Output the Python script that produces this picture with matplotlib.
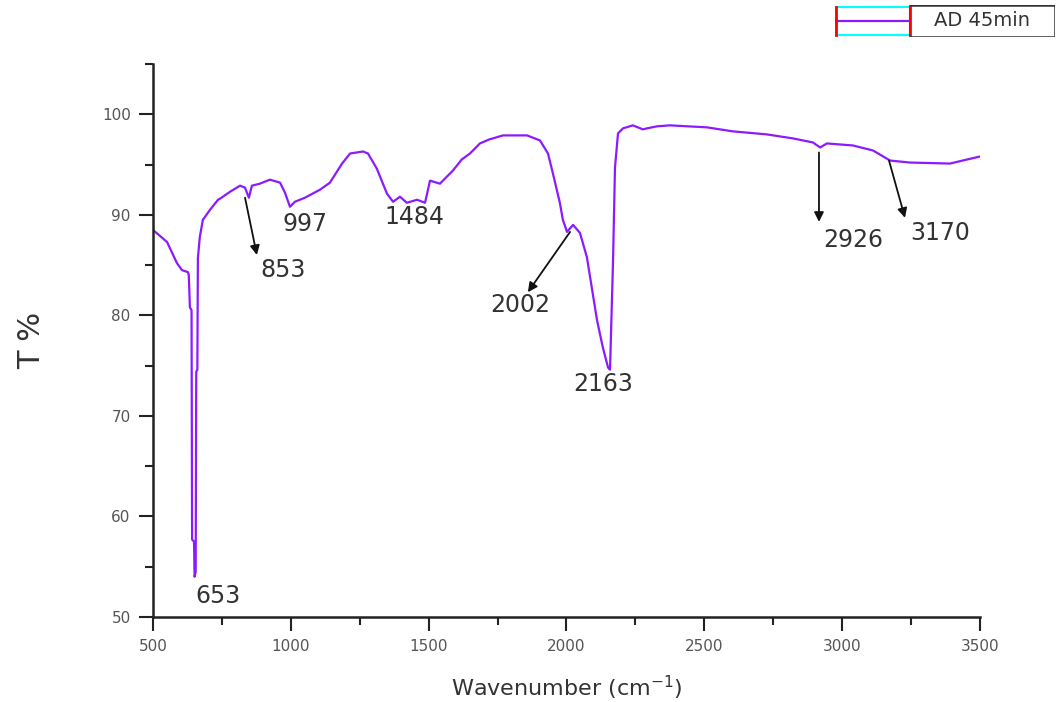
import matplotlib
matplotlib.use('Agg')
import matplotlib.pyplot as plt
from matplotlib.ticker import MultipleLocator
from matplotlib.patches import Rectangle

# FTIR spectrum, AD 45min
wavenumber = [500, 551, 587, 605, 627, 630, 634, 640, 642, 649, 651, 655, 657, 661,
              663, 670, 681, 707, 736, 743, 780, 816, 834, 848, 859, 888, 924, 961,
              979, 997, 1015, 1051, 1106, 1142, 1186, 1215, 1262, 1280, 1312, 1349,
              1371, 1396, 1421, 1458, 1487, 1505, 1541, 1588, 1620, 1650, 1686, 1720,
              1770, 1857, 1904, 1933, 1951, 1976, 1987, 2002, 2024, 2049, 2074, 2111,
              2132, 2151, 2158, 2169, 2176, 2187, 2205, 2241, 2277, 2292, 2328, 2375,
              2510, 2604, 2727, 2822, 2894, 2920, 2945, 3039, 3112, 3174, 3246, 3391,
              3453, 3500]
transmittance = [88.5, 87.3, 85.2, 84.5, 84.3, 84.0, 80.8, 80.5, 57.7, 57.5, 54.0, 54.5,
                 74.4, 74.6, 85.7, 87.8, 89.5, 90.5, 91.5, 91.6, 92.3, 92.9, 92.7, 91.7,
                 92.9, 93.1, 93.5, 93.2, 92.2, 90.8, 91.3, 91.7, 92.5, 93.2, 95.1, 96.1,
                 96.3, 96.1, 94.6, 92.1, 91.3, 91.8, 91.2, 91.5, 91.2, 93.4, 93.1, 94.4,
                 95.5, 96.1, 97.1, 97.5, 97.9, 97.9, 97.4, 96.1, 94.1, 91.2, 89.5, 88.3,
                 89.0, 88.2, 85.8, 79.5, 76.8, 74.8, 74.6, 85.5, 94.7, 98.1, 98.6, 98.9,
                 98.5, 98.6, 98.8, 98.9, 98.7, 98.3, 98.0, 97.6, 97.2, 96.7, 97.1, 96.9,
                 96.4, 95.4, 95.2, 95.1, 95.5, 95.8]

# peak labels and where they sit (data coords)
peak_labels = ['653', '853', '997', '1484', '2002', '2163', '2926', '3170']
label_x = [736, 973, 1051, 1450, 1831, 2132, 3039, 3355]
label_y = [52.1, 84.5, 89.1, 89.8, 81.0, 73.2, 87.5, 88.2]

# arrows: (start, end) in data coords
arrow_start_x = [834, 2013, 2916, 3170]
arrow_start_y = [91.7, 88.3, 96.2, 95.4]
arrow_end_x = [877, 1860, 2916, 3228]
arrow_end_y = [86.0, 82.3, 89.3, 89.7]

line_color = '#8c1aff'
text_color = '#333333'

fig = plt.figure(figsize=(10.6, 7.02), dpi=100)
ax = fig.add_axes([0.1443, 0.1211, 0.7802, 0.7877])

ax.plot(wavenumber, transmittance, color=line_color, lw=1.6)

for sx, sy, ex, ey in zip(arrow_start_x, arrow_start_y, arrow_end_x, arrow_end_y):
    ax.annotate('', xy=(ex, ey), xytext=(sx, sy),
                arrowprops=dict(arrowstyle='-|>', color='#111111', lw=1.3,
                                mutation_scale=14, shrinkA=0, shrinkB=0))

for lab, lx, ly in zip(peak_labels, label_x, label_y):
    ax.text(lx, ly, lab, ha='center', va='center', fontsize=17, color=text_color)

ax.set_xlim(500, 3500)
ax.set_ylim(50, 105)
ax.xaxis.set_major_locator(MultipleLocator(500))
ax.xaxis.set_minor_locator(MultipleLocator(250))
ax.yaxis.set_major_locator(MultipleLocator(10))
ax.yaxis.set_minor_locator(MultipleLocator(5))
ax.set_yticks([50, 60, 70, 80, 90, 100])

for side in ['top', 'right']:
    ax.spines[side].set_visible(False)
for side in ['left', 'bottom']:
    ax.spines[side].set_linewidth(1.8)
    ax.spines[side].set_color('#222222')

ax.tick_params(which='major', direction='out', length=10, width=1.5,
               labelsize=11, labelcolor='#555555', color='#222222', pad=6)
ax.tick_params(which='minor', direction='out', length=6, width=1.5, color='#222222')

ax.set_xlabel('Wavenumber (cm$^{-1}$)', fontsize=16, color=text_color, labelpad=14)
ax.set_ylabel('T %', fontsize=22, color=text_color, labelpad=40)

# legend box, top right
lg = fig.add_axes([835 / 1060, 1 - 37 / 702, 220 / 1060, 32 / 702])
lg.set_xlim(0, 1)
lg.set_ylim(0, 1)
lg.axis('off')
lg.add_patch(Rectangle((0.0, 0.05), 0.34, 0.9, fill=False, edgecolor='cyan', lw=1.5))
lg.add_patch(Rectangle((0.34, 0.0), 0.66, 1.0, fill=False, edgecolor='#333333', lw=1.8))
lg.plot([0.0, 0.34], [0.5, 0.5], color=line_color, lw=1.6)
lg.plot([0.005, 0.005], [0.05, 0.95], color='red', lw=2)
lg.plot([0.34, 0.34], [0.05, 0.95], color='red', lw=1.5)
lg.text(0.67, 0.5, 'AD 45min', ha='center', va='center', fontsize=14, color=text_color)

fig.savefig('out.png', dpi=100)
